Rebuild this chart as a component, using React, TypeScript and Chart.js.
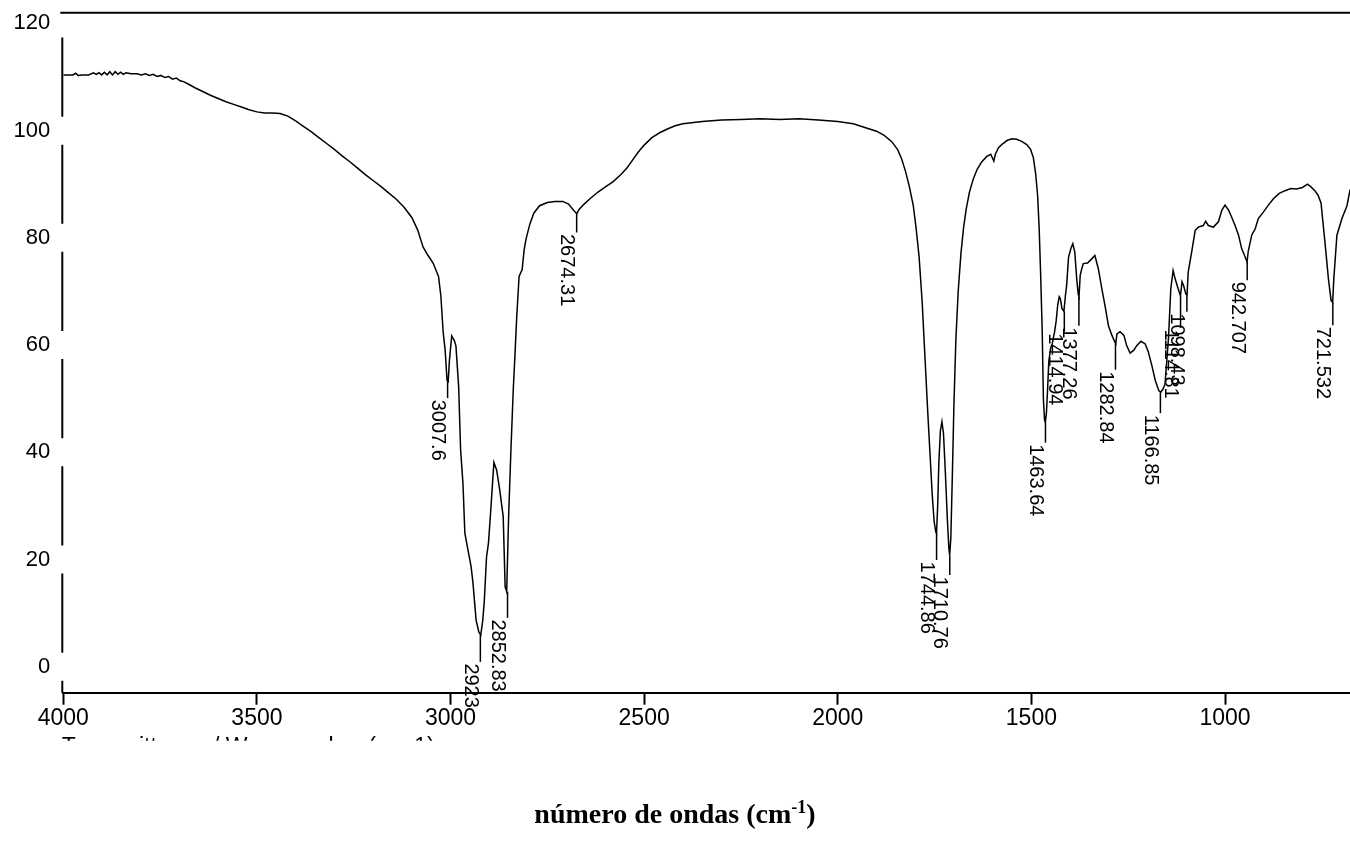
import React, { useEffect, useRef } from "react";
import { Chart, registerables } from "chart.js";

Chart.register(...registerables);

// Spectrum (wavenumber in cm-1, transmittance)
const wavenumbers = [
  4000, 3990, 3975, 3968, 3962, 3950, 3935, 3922, 3915, 3908, 3901, 3894, 3887, 3880, 3873, 3866, 3859, 3852, 3845, 3838,
  3825, 3810, 3798, 3788, 3778, 3768, 3758, 3748, 3738, 3728, 3718, 3708, 3698, 3688, 3675, 3660, 3640, 3620, 3600, 3580,
  3560, 3540, 3520, 3500, 3480, 3460, 3440, 3420, 3400, 3380, 3360, 3340, 3320, 3300, 3280, 3260, 3240, 3220, 3200, 3180,
  3160, 3140, 3120, 3100, 3085, 3071, 3058, 3045, 3031, 3025, 3019, 3014, 3009, 3006, 3003, 2997, 2990, 2986, 2979, 2974,
  2968, 2963, 2955, 2947, 2942, 2934, 2927, 2922, 2917, 2913, 2907, 2902, 2896, 2888, 2881, 2873, 2864, 2859, 2855, 2850,
  2844, 2838, 2833, 2829, 2823, 2815, 2810, 2805, 2795, 2785, 2770, 2750, 2730, 2710, 2695, 2685, 2678, 2674, 2668, 2655,
  2640, 2620, 2600, 2580, 2560, 2545, 2530, 2515, 2500, 2480, 2460, 2440, 2420, 2400, 2350, 2300, 2250, 2200, 2150, 2100,
  2050, 2000, 1960, 1930, 1900, 1880, 1860, 1845, 1835, 1825, 1815, 1805, 1798, 1790, 1782, 1775, 1768, 1762, 1756, 1751,
  1747, 1745, 1742, 1739, 1735, 1731, 1727, 1722, 1717, 1713, 1711, 1708, 1704, 1700, 1695, 1689, 1682, 1675, 1668, 1660,
  1650, 1640, 1628, 1615, 1605, 1600, 1597, 1593, 1585, 1575, 1562, 1550, 1538, 1525, 1512, 1502, 1495, 1489, 1484, 1480,
  1476, 1472, 1469, 1466, 1464, 1461, 1458, 1455, 1450, 1446, 1440, 1436, 1432, 1428, 1425, 1421, 1416, 1412, 1409, 1404,
  1398, 1393, 1388, 1383, 1379, 1377, 1374, 1370, 1366, 1355, 1348, 1336, 1327, 1318, 1310, 1301, 1292, 1284, 1282, 1279,
  1271, 1261, 1254, 1245, 1236, 1228, 1217, 1206, 1198, 1189, 1180, 1171, 1166, 1160, 1155, 1146, 1140, 1134, 1129, 1121,
  1115, 1111, 1107, 1101, 1098, 1095, 1086, 1077, 1069, 1056, 1050, 1043, 1030, 1017, 1008, 1000, 991, 983, 974, 965,
  957, 950, 943, 940, 931, 922, 914, 901, 888, 875, 860, 845, 830, 815, 800, 787, 778, 768, 760, 752,
  742, 733, 726, 722, 719, 711, 698, 685, 677,
];

const transmittance = [
  110.4, 110.4, 110.4, 110.7, 110.3, 110.4, 110.4, 110.8, 110.5, 110.8, 110.4, 110.9, 110.4, 111.0, 110.4, 111.0, 110.5, 110.9, 110.5, 110.8,
  110.6, 110.6, 110.4, 110.6, 110.3, 110.5, 110.1, 110.3, 109.9, 110.1, 109.6, 109.8, 109.3, 109.1, 108.6, 108.0, 107.3, 106.6, 106.0, 105.4,
  104.9, 104.4, 103.9, 103.5, 103.3, 103.3, 103.2, 102.7, 101.8, 100.8, 99.8, 98.7, 97.6, 96.5, 95.3, 94.2, 93.0, 91.8, 90.7, 89.6,
  88.4, 87.2, 85.7, 83.8, 81.5, 78.3, 76.7, 75.3, 72.8, 69.2, 62.4, 59.1, 53.4, 53.2, 57.0, 61.7, 60.8, 59.8, 52.2, 40.5,
  34.3, 24.9, 21.8, 18.7, 15.6, 8.7, 6.5, 5.9, 8.5, 12.0, 20.5, 23.1, 29.3, 38.1, 36.7, 33.0, 28.0, 14.9, 14.0, 28.0,
  40.5, 51.7, 59.1, 65.3, 72.8, 74.1, 77.7, 79.8, 82.6, 84.6, 86.0, 86.6, 86.8, 86.8, 86.3, 85.4, 84.8, 84.5, 85.3, 86.3,
  87.3, 88.5, 89.5, 90.5, 91.8, 93.0, 94.5, 96.0, 97.3, 98.7, 99.6, 100.3, 100.9, 101.3, 101.7, 102.0, 102.1, 102.2, 102.1, 102.2,
  102.0, 101.7, 101.3, 100.6, 99.9, 99.1, 97.9, 96.4, 94.7, 92.4, 89.5, 86.0, 82.0, 76.5, 68.0, 58.0, 48.0, 40.0, 32.0, 27.0,
  25.2, 24.8, 30.0, 38.0, 44.0, 45.7, 43.5, 36.0, 27.5, 22.0, 20.8, 24.0, 36.0, 49.0, 61.0, 70.0, 77.0, 82.0, 85.5, 88.5,
  91.0, 92.8, 94.2, 95.2, 95.6, 94.8, 94.3, 95.6, 96.8, 97.5, 98.2, 98.5, 98.4, 98.0, 97.4, 96.5, 95.0, 92.0, 88.0, 82.0,
  73.0, 62.5, 50.0, 46.0, 45.6, 47.5, 52.0, 57.0, 59.5, 60.3, 62.5, 64.5, 67.5, 69.0, 68.6, 66.8, 66.3, 69.3, 71.1, 76.4,
  78.0, 78.9, 77.4, 72.4, 69.5, 69.0, 73.0, 74.2, 75.2, 75.3, 75.8, 76.7, 74.2, 70.5, 67.4, 63.6, 61.8, 60.5, 60.3, 62.1,
  62.5, 61.8, 59.9, 58.5, 59.0, 59.9, 60.7, 60.2, 58.7, 56.2, 53.4, 51.5, 51.2, 51.8, 52.7, 61.2, 70.5, 73.9, 72.4, 70.5,
  69.2, 71.8, 71.1, 69.5, 69.3, 73.6, 77.4, 81.4, 82.0, 82.3, 83.1, 82.3, 82.0, 83.0, 85.2, 86.1, 85.2, 83.9, 82.3, 80.5,
  78.0, 76.8, 75.5, 77.5, 80.5, 81.7, 83.6, 84.8, 86.1, 87.3, 88.3, 88.8, 89.2, 89.1, 89.4, 90.0, 89.5, 88.8, 88.0, 86.5,
  79.3, 72.4, 68.3, 68.0, 72.4, 80.5, 83.6, 86.0, 89.0,
];

const xTicks = [4000, 3500, 3000, 2500, 2000, 1500, 1000];
const yTicks = [0, 20, 40, 60, 80, 100, 120];
const xLeft = 4000;
const xRight = 677.2;
const yBottom = -4.85;
const yTop = 122;

// Peak annotations
const peakWavenumbers = [3007.6, 2923, 2852.83, 2674.31, 1744.86, 1710.76, 1463.64, 1414.94, 1377.26, 1282.84, 1166.85, 1114.81, 1098.43, 942.707, 721.532];
const peakValues = [53.2, 5.9, 14.0, 84.5, 24.8, 20.8, 45.6, 66.3, 69.0, 60.3, 51.2, 69.2, 69.3, 75.5, 68.0];
const peakMarkEnds = [50.1, 0.9, 9.1, 81.0, 19.9, 17.1, 41.8, 62.5, 63.6, 55.4, 47.3, 63.2, 66.2, 72.1, 63.7];
const peakLabels = ["3007.6", "2923", "2852.83", "2674.31", "1744.86", "1710.76", "1463.64", "1414.94", "1377.26", "1282.84", "1166.85", "1114.81", "1098.43", "942.707", "721.532"];

const hiddenAxisNote = "Transmittance / Wavenumber (cm-1)";
const titleText = "número de ondas (cm";
const titleSup = "-1";

const SANS = '"Liberation Sans", Arial, Helvetica, sans-serif';

export default function App() {
  const canvasRef = useRef<HTMLCanvasElement | null>(null);

  useEffect(() => {
    const canvas = canvasRef.current;
    if (!canvas) return;

    const decor = {
      id: "decor",
      afterDraw(chart: any) {
        const { ctx, chartArea: a, scales } = chart;
        const x = scales.x;
        const y = scales.y;
        ctx.save();
        ctx.strokeStyle = "#000";
        ctx.fillStyle = "#000";

        // top frame line
        ctx.lineWidth = 2;
        ctx.beginPath();
        ctx.moveTo(a.left - 3, a.top);
        ctx.lineTo(a.right, a.top);
        ctx.stroke();

        // broken y axis (interrupted at each label)
        const axX = a.left - 1;
        const gap = 14;
        const tickPx = yTicks.map((v) => y.getPixelForValue(v));
        ctx.beginPath();
        ctx.moveTo(axX, a.bottom);
        ctx.lineTo(axX, tickPx[0] + gap);
        for (let i = 1; i < tickPx.length; i++) {
          ctx.moveTo(axX, tickPx[i - 1] - gap);
          ctx.lineTo(axX, tickPx[i] + gap);
        }
        ctx.stroke();

        // peak markers and labels
        ctx.lineWidth = 1.5;
        ctx.font = "20px " + SANS;
        ctx.textAlign = "left";
        ctx.textBaseline = "top";
        peakWavenumbers.forEach((w, i) => {
          const px = x.getPixelForValue(w);
          const y0 = y.getPixelForValue(peakValues[i]);
          const y1 = y.getPixelForValue(peakMarkEnds[i]);
          ctx.beginPath();
          ctx.moveTo(px, y0);
          ctx.lineTo(px, y1);
          ctx.stroke();
          ctx.save();
          ctx.translate(px, y1 + 1.5);
          ctx.rotate(Math.PI / 2);
          ctx.fillText(peakLabels[i], 0, 0);
          ctx.restore();
        });

        // partly hidden axis caption under the tick labels
        ctx.save();
        ctx.beginPath();
        ctx.rect(0, 0, chart.width, a.bottom + 48);
        ctx.clip();
        ctx.font = "23px " + SANS;
        ctx.textBaseline = "alphabetic";
        ctx.fillText(hiddenAxisNote, a.left - 1.5, a.bottom + 61.5);
        ctx.restore();

        ctx.restore();
      },
    };

    const chart = new Chart(canvas, {
      type: "line",
      data: {
        datasets: [
          {
            data: wavenumbers.map((w, i) => ({ x: w, y: transmittance[i] })),
            borderColor: "#000",
            borderWidth: 1.5,
            pointRadius: 0,
            tension: 0,
            fill: false,
          },
        ],
      },
      options: {
        responsive: false,
        animation: false,
        events: [],
        layout: { padding: { top: 12.7, bottom: 120.3, left: 0, right: 0 } },
        plugins: { legend: { display: false }, tooltip: { enabled: false }, title: { display: false } },
        scales: {
          x: {
            type: "linear",
            reverse: true,
            min: xRight,
            max: xLeft,
            afterBuildTicks: (s: any) => {
              s.ticks = xTicks.map((v) => ({ value: v }));
            },
            afterFit: (s: any) => {
              s.height = 40;
              s.paddingLeft = 0;
              s.paddingRight = 0;
            },
            grid: { display: true, drawOnChartArea: false, drawTicks: true, tickLength: 12, tickWidth: 2, tickColor: "#000" },
            border: { display: true, color: "#000", width: 2 },
            ticks: {
              font: { family: SANS, size: 23 },
              color: "#000",
              padding: 0,
              maxRotation: 0,
              autoSkip: false,
              callback: (v: any) => String(v),
            },
          },
          y: {
            type: "linear",
            min: yBottom,
            max: yTop,
            afterBuildTicks: (s: any) => {
              s.ticks = yTicks.map((v) => ({ value: v }));
            },
            afterFit: (s: any) => {
              s.width = 63.3;
              s.paddingTop = 0;
              s.paddingBottom = 0;
            },
            grid: { display: false, drawTicks: false },
            border: { display: false },
            ticks: {
              font: { family: SANS, size: 22, lineHeight: 1 },
              color: "#000",
              padding: 13,
              autoSkip: false,
              callback: (v: any) => String(v),
            },
          },
        },
      },
      plugins: [decor],
    });

    return () => chart.destroy();
  }, []);

  return (
    <div style={{ position: "absolute", left: 0, top: 0, width: 1350, height: 853, background: "#fff", overflow: "hidden" }}>
      <canvas ref={canvasRef} width={1350} height={853} style={{ display: "block", width: 1350, height: 853 }} />
      <div
        style={{
          position: "absolute",
          left: 0,
          top: 798,
          width: 1350,
          textAlign: "center",
          fontFamily: '"Liberation Serif", "Times New Roman", serif',
          fontWeight: "bold",
          fontSize: 28,
          lineHeight: "32px",
          color: "#000",
        }}
      >
        {titleText}
        <sup style={{ fontSize: 18, lineHeight: 0 }}>{titleSup}</sup>)
      </div>
    </div>
  );
}
